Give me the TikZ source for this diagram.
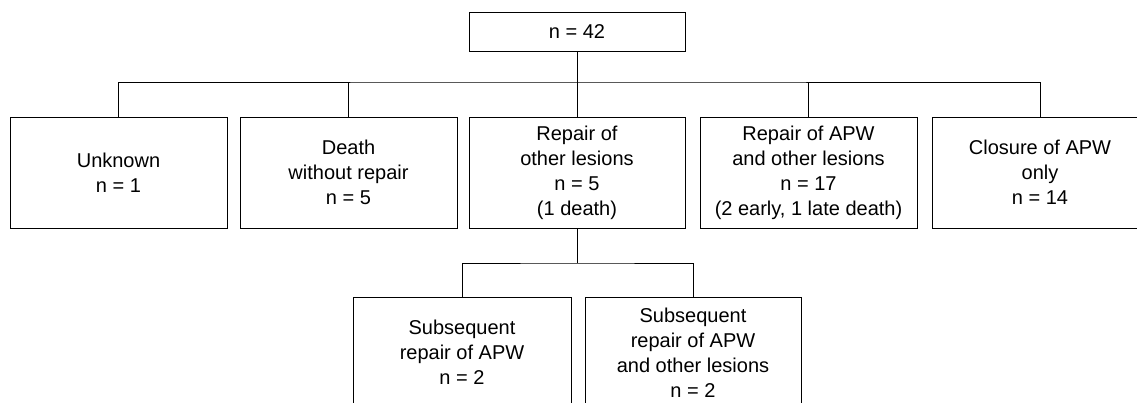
\documentclass[tikz,border=0pt]{standalone}
\usepackage{fontspec}
\setmainfont{Liberation Sans}
\begin{document}
\begin{tikzpicture}[x=1pt,y=-1pt,
  box/.style={draw, line width=0.8pt, rectangle, inner sep=0pt, minimum width=217pt, minimum height=111pt, align=center, font=\fontsize{20}{25}\selectfont},
  link/.style={draw, line width=0.8pt}]
\useasboundingbox (0,0) rectangle (1137,403);
\node[box, minimum width=216pt, minimum height=39pt] (top) at (577,31.5) {n = 42};
\node[box] (b1) at (118.5,172.5) {Unknown\\n = 1};
\node[box] (b2) at (348.5,172.5) {Death\\without repair\\n = 5};
\node[box, minimum width=216pt] (b3) at (577,172.5) {Repair of\\other lesions\\n = 5\\(1 death)};
\node[box] (b4) at (808.5,172.5) {Repair of APW\\and other lesions\\n = 17\\(2 early, 1 late death)};
\node[box, minimum width=216pt] (b5) at (1040,172.5) {Closure of APW\\only\\n = 14};
\node[box, minimum width=218pt] (b6) at (462,352.5) {Subsequent\\repair of APW\\n = 2};
\node[box, minimum width=216pt] (b7) at (693,352.5) {Subsequent\\repair of APW\\and other lesions\\n = 2};
\coordinate (h) at (577,82);
\coordinate (h2) at (577,263);
\draw[link] (top.south) -- (h);
\draw[link] (b1.north) |- (h) -| (b5.north);
\draw[link] (b2.north) -- (b2.north |- h);
\draw[link] (b3.north) -- (h);
\draw[link] (b4.north) -- (b4.north |- h);
\draw[link] (b3.south) -- (h2);
\draw[link] (b6.north) |- (h2) -| (b7.north);
\end{tikzpicture}
\end{document}
